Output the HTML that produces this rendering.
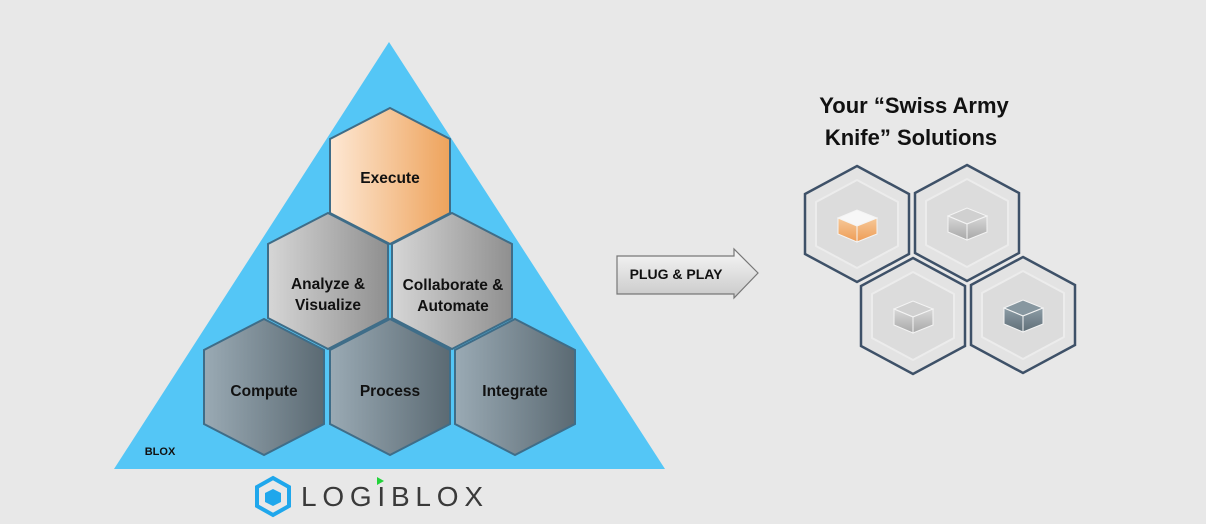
<!DOCTYPE html>
<html><head><meta charset="utf-8"><style>
html,body{margin:0;padding:0;background:#e8e8e8;}
svg{display:block;font-family:"Liberation Sans",sans-serif;}
</style></head><body>
<svg width="1206" height="524" viewBox="0 0 1206 524" xmlns="http://www.w3.org/2000/svg">
<defs>
<linearGradient id="or" x1="0" x2="1" y1="0" y2="0"><stop offset="0" stop-color="#fde8d4"/><stop offset="1" stop-color="#eea35c"/></linearGradient>
<linearGradient id="gy" x1="0" x2="1"><stop offset="0" stop-color="#d6d6d6"/><stop offset="1" stop-color="#8f8f8f"/></linearGradient>
<linearGradient id="dk" x1="0" x2="1"><stop offset="0" stop-color="#9aaab4"/><stop offset="1" stop-color="#5b6a73"/></linearGradient>
<linearGradient id="ar" x1="0" x2="0" y1="0" y2="1"><stop offset="0" stop-color="#f7f7f7"/><stop offset="1" stop-color="#c9c9c9"/></linearGradient>
<linearGradient id="bo" x1="0" x2="0" y1="0" y2="1"><stop offset="0" stop-color="#f6c898"/><stop offset="1" stop-color="#ee9c55"/></linearGradient>
<linearGradient id="bg" x1="0" x2="0" y1="0" y2="1"><stop offset="0" stop-color="#d8d8d8"/><stop offset="1" stop-color="#a8a8a8"/></linearGradient>
<linearGradient id="bd" x1="0" x2="0" y1="0" y2="1"><stop offset="0" stop-color="#8d9da6"/><stop offset="1" stop-color="#5f6e77"/></linearGradient>
</defs>
<polygon points="389,42 665,469 114,469" fill="#54c6f6"/>
<g stroke="#3f6d88" stroke-width="2">
<polygon points="390,108 450,139 450,213 390,244 330,213 330,139" fill="url(#or)"/>
<polygon points="328,213 388,244 388,318 328,349 268,318 268,244" fill="url(#gy)"/>
<polygon points="452,213 512,244 512,318 452,349 392,318 392,244" fill="url(#gy)"/>
<polygon points="264,319 324,350 324,424 264,455 204,424 204,350" fill="url(#dk)"/>
<polygon points="390,319 450,350 450,424 390,455 330,424 330,350" fill="url(#dk)"/>
<polygon points="515,319 575,350 575,424 515,455 455,424 455,350" fill="url(#dk)"/>
</g>
<g font-weight="bold" font-size="15.5" fill="#111" text-anchor="middle">
<text x="390" y="183">Execute</text>
<text x="328" y="289">Analyze &amp;</text>
<text x="328" y="310">Visualize</text>
<text x="453" y="290">Collaborate &amp;</text>
<text x="453" y="311">Automate</text>
<text x="264" y="396">Compute</text>
<text x="390" y="396">Process</text>
<text x="515" y="396">Integrate</text>
<text x="160" y="455" font-size="11" text-anchor="middle">BLOX</text>
</g>
<polygon points="617,256 734,256 734,249 758,273 734,298 734,294 617,294" fill="url(#ar)" stroke="#777" stroke-width="1.2"/>
<text x="676" y="279" font-weight="bold" font-size="14" text-anchor="middle" fill="#111">PLUG &amp; PLAY</text>
<g font-weight="bold" font-size="22" fill="#111" text-anchor="middle">
<text x="914" y="113">Your “Swiss Army</text>
<text x="911" y="145">Knife” Solutions</text>
</g>
<g stroke="#3e5168" stroke-width="2.5" fill="#e3e3e3">
<polygon points="857,166 909,194 909,254 857,282 805,254 805,194"/>
<polygon points="967,165 1019,193 1019,253 967,281 915,253 915,193"/>
<polygon points="913,258 965,286 965,346 913,374 861,346 861,286"/>
<polygon points="1023,257 1075,285 1075,345 1023,373 971,345 971,285"/>
</g>
<g fill="#dcdcdc" stroke="#ececec" stroke-width="2">
<polygon points="857,180 898,202 898,246 857,268 816,246 816,202"/>
<polygon points="967,179 1008,201 1008,245 967,267 926,245 926,201"/>
<polygon points="913,272 954,294 954,338 913,360 872,338 872,294"/>
<polygon points="1023,271 1064,293 1064,337 1023,359 982,337 982,293"/>
</g>
<g stroke="#f4f4f4" stroke-width="1">
<g><polygon points="838,218 857,210 877,218 857,226" fill="#f7f7f7"/><polygon points="838,218 857,226 857,242 838,234" fill="url(#bo)"/><polygon points="857,226 877,218 877,234 857,242" fill="url(#bo)"/></g>
<g transform="translate(110,-2)"><polygon points="838,218 857,210 877,218 857,226" fill="#d0d0d0"/><polygon points="838,218 857,226 857,242 838,234" fill="url(#bg)"/><polygon points="857,226 877,218 877,234 857,242" fill="url(#bg)"/></g>
<g transform="translate(56,91)"><polygon points="838,218 857,210 877,218 857,226" fill="#d0d0d0"/><polygon points="838,218 857,226 857,242 838,234" fill="url(#bg)"/><polygon points="857,226 877,218 877,234 857,242" fill="url(#bg)"/></g>
<g transform="translate(166,90)"><polygon points="838,218 857,210 877,218 857,226" fill="#8797a0"/><polygon points="838,218 857,226 857,242 838,234" fill="url(#bd)"/><polygon points="857,226 877,218 877,234 857,242" fill="url(#bd)"/></g>
</g>
<g>
<polygon points="273,478 289,487 289,506 273,515 257,506 257,487" fill="none" stroke="#1fa7ec" stroke-width="4"/>
<polygon points="273,489 281,493 281,502 273,506 265,502 265,493" fill="#1fa7ec"/>
<text x="301" y="506" font-size="28" fill="#3a3a3a" textLength="182" lengthAdjust="spacing">LOGIBLOX</text>
<polygon points="377,477 384,481 377,485" fill="#22d33a"/>
</g>
</svg>
</body></html>
